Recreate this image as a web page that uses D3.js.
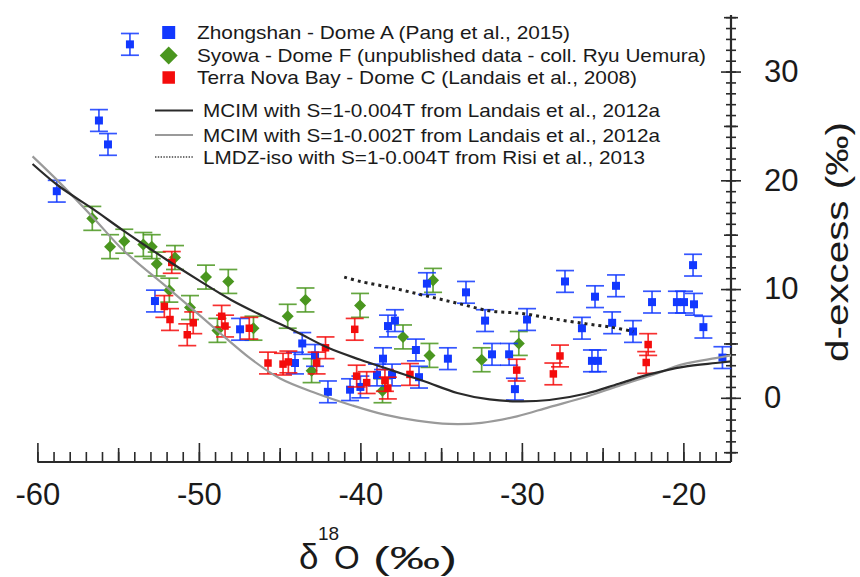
<!DOCTYPE html>
<html>
<head>
<meta charset="utf-8">
<script src="https://cdn.jsdelivr.net/npm/d3@7"></script>
<style>
  body { margin: 0; background: #fff; }
  svg { display: block; }
  text { font-family: "Liberation Sans", Arial, Helvetica, sans-serif; fill: #1a1a1a; }
</style>
</head>
<body>
<svg id="chart" width="860" height="577"></svg>
<script>
// ---- Observations: δ18O (‰) and d-excess (‰) ----
const zhongshanD18O = [-54.27, -56.19, -55.63, -58.8, -52.72, -47.45, -43.6, -42.81, -44.05, -42.01, -40.64, -40.0,
  -35.88, -33.46, -32.28, -29.68, -38.29, -37.86, -36.56, -34.58, -31.85, -30.79, -30.43, -38.6, -38.97, -38.04, -36.37,
  -27.33, -25.47, -24.17, -21.94, -20.4, -19.96, -19.34, -19.4, -18.76, -26.28, -24.41, -23.12, -25.66, -25.29, -17.58];
const zhongshanDxs = [32.5, 25.5, 23.3, 19.0, 8.9, 6.3, 5.0, 3.9, 3.2, 0.55, 0.75, 1.0,
  10.5, 9.7, 7.1, 7.2, 6.6, 7.1, 4.4, 3.6, 4.0, 4.0, 0.8, 3.6, 2.1, 2.1, 1.9,
  10.7, 9.3, 10.3, 8.8, 8.8, 8.8, 8.6, 12.2, 6.5, 6.4, 6.9, 6.1, 3.4, 3.4, 3.7];
const zhongshanErr = 1.0;

const syowaD18O = [-56.6, -55.5, -54.62, -53.44, -52.92, -52.61, -51.48, -51.83, -50.55, -49.56, -48.18, -48.85,
  -46.62, -44.5, -43.4, -40.02, -43.02, -38.63, -37.36, -35.72, -35.5, -32.49, -30.19];
const syowaDxs = [16.5, 13.9, 14.4, 14.1, 13.9, 12.3, 12.9, 9.9, 8.3, 11.1, 10.7, 6.2,
  6.4, 7.5, 9.0, 8.5, 2.5, 0.65, 5.6, 3.9, 10.8, 3.5, 5.0];
const syowaErr = 1.1;

const terraNovaD18O = [-51.68, -52.14, -51.79, -50.35, -50.72, -48.59, -48.38, -46.88, -45.72, -44.79, -44.46, -42.71,
  -42.16, -40.35, -40.23, -39.61, -38.48, -38.3, -36.93, -30.32, -27.64, -28.05, -22.18, -22.3];
const terraNovaDxs = [12.45, 8.4, 7.2, 6.9, 5.8, 7.5, 6.6, 6.4, 3.2, 3.1, 3.3, 3.2,
  4.6, 6.3, 2.0, 1.4, 1.6, 0.9, 2.15, 2.55, 3.85, 2.2, 4.9, 3.25];
const terraNovaErr = 1.0;

// ---- Model curves ----
const mcim004D18O = [-60.3, -58.7, -56.5, -54.7, -52, -50, -48, -46, -44, -42, -40, -38, -36, -34, -32, -30.3, -28.3, -26, -24, -22, -20, -18, -17.05];
const mcim004Dxs  = [21.5, 19.5, 17.3, 15.4, 12.7, 10.8, 9.0, 7.5, 6.1, 4.6, 3.5, 2.5, 1.5, 0.45, -0.15, -0.32, -0.2, 0.4, 1.3, 2.2, 2.85, 3.2, 3.35];

const mcim002D18O = [-60.3, -58.7, -56.5, -54.7, -52, -50.5, -48.8, -46.8, -45, -42.7, -40.5, -38.5, -36.5, -34.5, -32.5, -30.3, -28.3, -26, -24, -22, -20, -18, -17.05];
const mcim002Dxs  = [22.2, 19.9, 16.5, 13.6, 10.2, 8.3, 6.1, 3.6, 1.8, 0.4, -0.7, -1.55, -2.1, -2.4, -2.3, -1.7, -0.85, 0.1, 1.1, 2.05, 3.1, 3.65, 3.9];

const lmdzD18O = [-41, -40, -38, -36, -34, -32, -30, -28, -26, -24.5, -23.1];
const lmdzDxs  = [11.1, 10.7, 10.1, 9.4, 8.7, 8.0, 7.75, 7.25, 6.8, 6.5, 6.1];

// ---- Axis ticks ----
const xLabelTicks = [-60, -50, -40, -30, -20];
const yLabelTicks = [0, 10, 20, 30];

const legendLabels = [
  "Zhongshan - Dome A (Pang et al., 2015)",
  "Syowa - Dome F (unpublished data - coll. Ryu Uemura)",
  "Terra Nova Bay - Dome C (Landais et al., 2008)",
  "MCIM with S=1-0.004T from Landais et al., 2012a",
  "MCIM with S=1-0.002T from Landais et al., 2012a",
  "LMDZ-iso with S=1-0.004T from Risi et al., 2013"
];

// ---- Styling ----
const BLUE = "#1238ff", GREEN = "#4a961f", RED = "#f40c0c";
const DARK = "#2a2a2a", GREY = "#9a9a9a";

const svg = d3.select("#chart");
const x = d3.scaleLinear().domain([-60, -17.05]).range([37.4, 731]);
const y = d3.scaleLinear().domain([-5.9, 35.2]).range([462, 15]);
const x0 = x.range()[0], x1 = x.range()[1];
const yBottom = y.range()[0];

// ---- Bottom axis: ticks point inward (upwards) ----
const gx = svg.append("g").attr("transform", `translate(0,${yBottom})`);
function bottomTicks(vals, len) {
  const g = gx.append("g").call(d3.axisBottom(x).tickValues(vals).tickSizeInner(-len).tickSizeOuter(0).tickFormat(""));
  g.select(".domain").remove();
  g.selectAll("line").attr("stroke", DARK).attr("stroke-width", 1.6);
}
bottomTicks(d3.range(-60, -17, 1), 10);
bottomTicks(d3.range(-55, -17, 10), 14);
bottomTicks(xLabelTicks, 19);
gx.append("line").attr("x1", x0).attr("x2", x1).attr("y1", 0).attr("y2", 0)
  .attr("stroke", DARK).attr("stroke-width", 2.2);
const gxl = gx.append("g").call(d3.axisBottom(x).tickValues(xLabelTicks).tickSize(0).tickPadding(21).tickFormat(d => String(d)));
gxl.select(".domain").remove();
gxl.selectAll("text").attr("font-size", 31).attr("font-family", null).style("fill", "#1a1a1a");

// ---- Right axis: ticks cross the line ----
const gy = svg.append("g").attr("transform", `translate(${x1},0)`);
function rightTicks(vals, len) {
  const g = gy.append("g").call(d3.axisRight(y).tickValues(vals).tickSize(len).tickFormat(""));
  g.select(".domain").remove();
  g.selectAll("line").attr("x1", -len).attr("stroke", DARK).attr("stroke-width", 1.6);
}
rightTicks(d3.range(-5, 36, 1), 5);
rightTicks(d3.range(-5, 36, 10), 7);
rightTicks(yLabelTicks, 10);
gy.append("line").attr("x1", 0).attr("x2", 0).attr("y1", y.range()[1]).attr("y2", yBottom)
  .attr("stroke", DARK).attr("stroke-width", 2.2);
const gyl = gy.append("g").call(d3.axisRight(y).tickValues(yLabelTicks).tickSize(0).tickPadding(33));
gyl.select(".domain").remove();
gyl.selectAll("text").attr("font-size", 31).attr("font-family", null).style("fill", "#1a1a1a");

// ---- Axis titles ----
const xt = svg.append("g");
xt.append("text").attr("x", 299).attr("y", 569).attr("font-size", 35).text("δ");
xt.append("text").attr("x", 318).attr("y", 540).attr("font-size", 19).text("18");
xt.append("text").attr("x", 334).attr("y", 569).attr("font-size", 33).text("O");
xt.append("text").attr("x", 373).attr("y", 569).attr("font-size", 32)
  .attr("textLength", 84).attr("lengthAdjust", "spacingAndGlyphs").text("(‰)");

const yt = svg.append("text").attr("font-size", 32).attr("text-anchor", "middle").text("d-excess (‰)");
{
  const w = yt.node().getComputedTextLength();
  yt.attr("transform", `translate(848,242) rotate(-90) scale(${240 / w},1)`);
}

// ---- Data points with error bars ----
function series(xs, ys, err, color, shape, size) {
  const pts = xs.map((v, i) => ({ x: v, y: ys[i] }));
  const g = svg.append("g");
  const eb = g.selectAll("g.eb").data(pts).join("g").attr("class", "eb")
    .attr("stroke", color).attr("stroke-width", 1.7).attr("stroke-opacity", 0.85);
  eb.append("line").attr("x1", d => x(d.x)).attr("x2", d => x(d.x))
    .attr("y1", d => y(d.y - err)).attr("y2", d => y(d.y + err));
  eb.append("line").attr("x1", d => x(d.x) - 9).attr("x2", d => x(d.x) + 9)
    .attr("y1", d => y(d.y - err)).attr("y2", d => y(d.y - err));
  eb.append("line").attr("x1", d => x(d.x) - 9).attr("x2", d => x(d.x) + 9)
    .attr("y1", d => y(d.y + err)).attr("y2", d => y(d.y + err));
  const sym = d3.symbol().type(d3.symbolSquare).size(size * size);
  g.selectAll("path.pt").data(pts).join("path").attr("class", "pt")
    .attr("d", sym)
    .attr("transform", d => `translate(${x(d.x)},${y(d.y)})` + (shape === "diamond" ? " rotate(45)" : ""))
    .attr("fill", color);
}
series(syowaD18O, syowaDxs, syowaErr, GREEN, "diamond", 8.5);
series(zhongshanD18O, zhongshanDxs, zhongshanErr, BLUE, "square", 8);
series(terraNovaD18O, terraNovaDxs, terraNovaErr, RED, "square", 7.5);

// ---- Model curves ----
const line = d3.line().x(d => x(d[0])).y(d => y(d[1])).curve(d3.curveCatmullRom.alpha(0.5));
svg.append("path").attr("d", line(mcim002D18O.map((v, i) => [v, mcim002Dxs[i]])))
  .attr("fill", "none").attr("stroke", GREY).attr("stroke-width", 2.2);
svg.append("path").attr("d", line(mcim004D18O.map((v, i) => [v, mcim004Dxs[i]])))
  .attr("fill", "none").attr("stroke", DARK).attr("stroke-width", 2.2);
svg.append("path").attr("d", line(lmdzD18O.map((v, i) => [v, lmdzDxs[i]])))
  .attr("fill", "none").attr("stroke", "#222").attr("stroke-width", 3)
  .attr("stroke-dasharray", "3,4");

// ---- Legend ----
const lg = svg.append("g");
const sq = d3.symbol().type(d3.symbolSquare);
lg.append("path").attr("d", sq.size(13 * 13)()).attr("transform", "translate(168.7,32.5)").attr("fill", BLUE);
lg.append("path").attr("d", sq.size(12.7 * 12.7)()).attr("transform", "translate(168.7,55.5) rotate(45)").attr("fill", GREEN);
lg.append("path").attr("d", sq.size(12.5 * 12.5)()).attr("transform", "translate(168.7,77.5)").attr("fill", RED);
lg.append("line").attr("x1", 155).attr("x2", 193).attr("y1", 110.5).attr("y2", 110.5).attr("stroke", DARK).attr("stroke-width", 2);
lg.append("line").attr("x1", 155).attr("x2", 193).attr("y1", 135).attr("y2", 135).attr("stroke", GREY).attr("stroke-width", 2);
lg.append("line").attr("x1", 155).attr("x2", 193).attr("y1", 157).attr("y2", 157).attr("stroke", "#444").attr("stroke-width", 1.4).attr("stroke-dasharray", "1.4,1.4");

const legendX = [197, 197, 197, 203, 203, 203];
const legendBase = [38.5, 61.5, 83.5, 117.3, 141.5, 163.5];
const legendLen = [373, 509, 440, 457, 457, 442];
legendLabels.forEach((t, i) => {
  lg.append("text").attr("x", legendX[i]).attr("y", legendBase[i]).attr("font-size", 19)
    .attr("textLength", legendLen[i]).attr("lengthAdjust", "spacingAndGlyphs").text(t);
});
</script>
</body>
</html>
